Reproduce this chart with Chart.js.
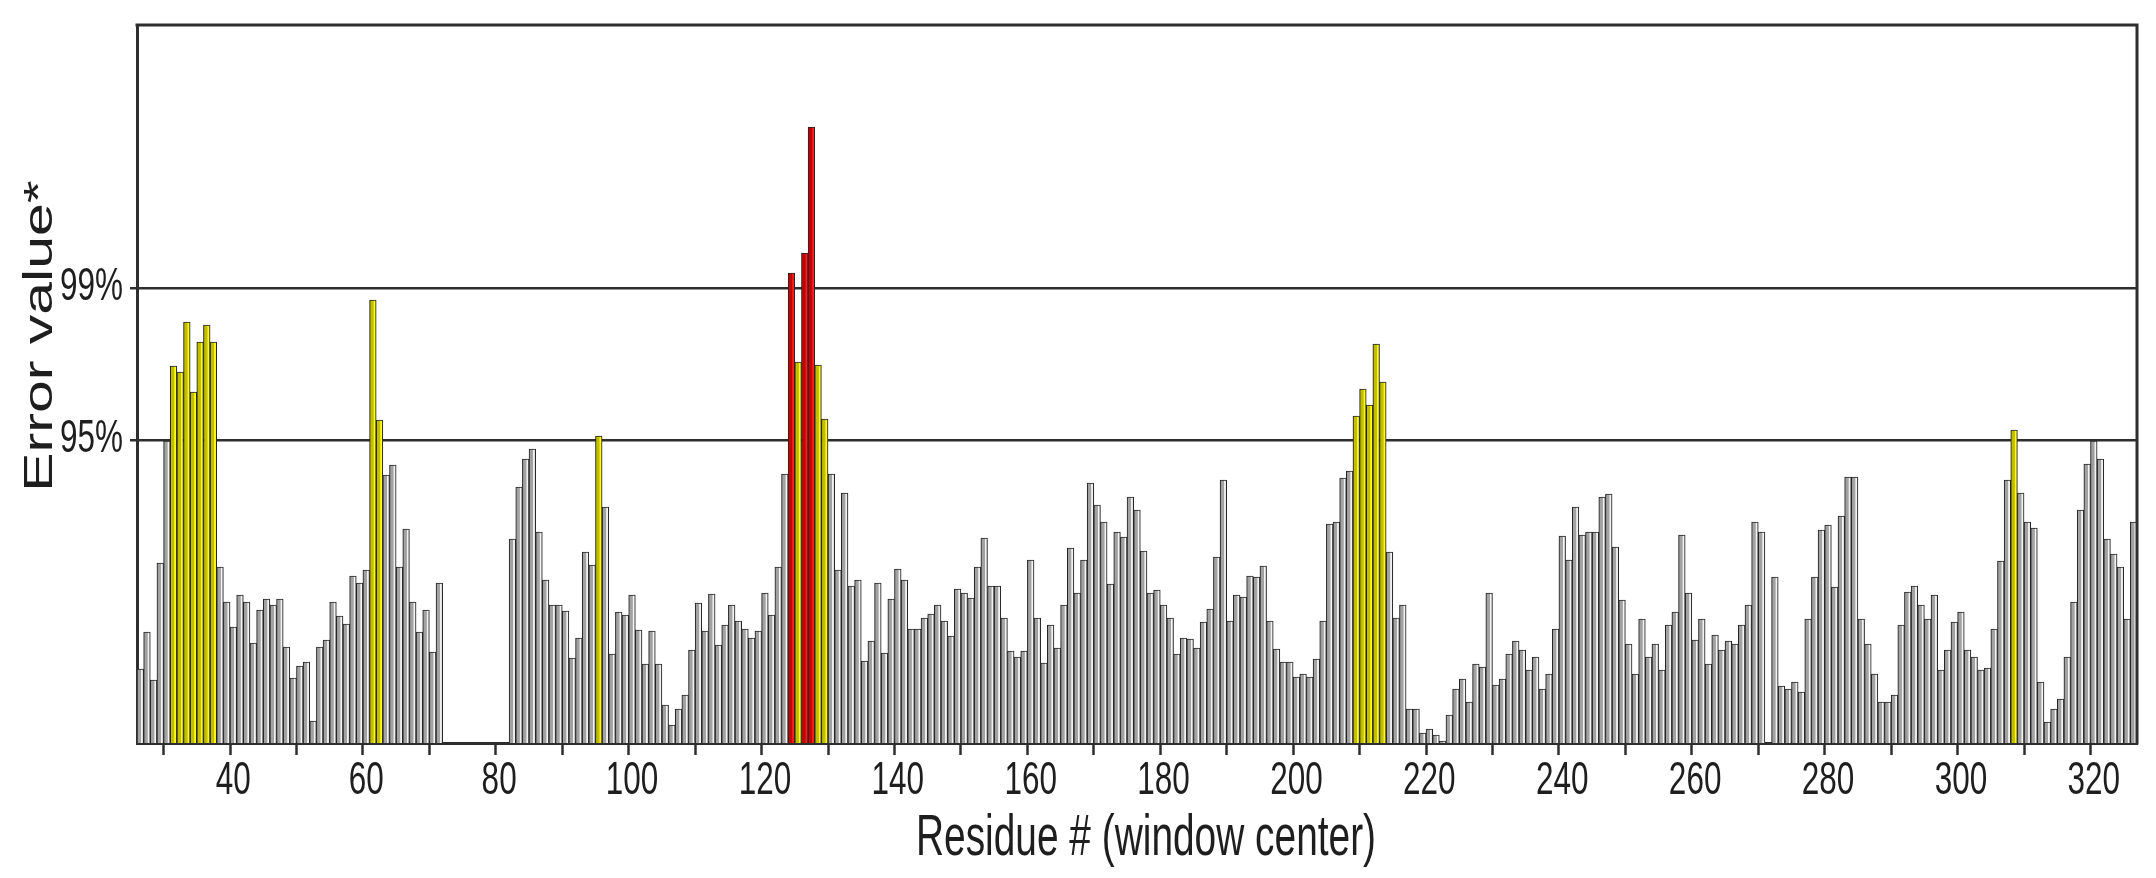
<!DOCTYPE html>
<html>
<head>
<meta charset="utf-8">
<title>Error value by residue</title>
<script src="https://cdn.jsdelivr.net/npm/chart.js@4.4.1/dist/chart.umd.min.js"></script>
<style>
  html, body { margin: 0; padding: 0; background: #fff; }
  #wrap { width: 2156px; height: 878px; }
</style>
</head>
<body>
<div id="wrap"><canvas id="errorChart"></canvas></div>
<script>
// residues 26..326, one bar per window center
const FIRST_RESIDUE = 26;
const LAST_RESIDUE = 326;

// error value per residue (null = no window)
const ERROR_VALUES = [
  0.74, 1.11, 0.63, 1.80, 3.02, 3.77, 3.71, 4.21, 3.51, 4.01,   // 26-35
  4.18, 4.01, 1.76, 1.41, 1.16, 1.48, 1.41, 1.00, 1.33, 1.44,   // 36-45
  1.38, 1.44, 0.96, 0.65, 0.77, 0.81, 0.22, 0.96, 1.03, 1.41,   // 46-55
  1.27, 1.19, 1.67, 1.60, 1.73, 4.43, 3.23, 2.68, 2.78, 1.76,   // 56-65
  2.14, 1.41, 1.11, 1.33, 0.91, 1.60, null, null, null, null,   // 66-75
  null, null, null, null, null, null, 2.04, 2.56, 2.84, 2.94,   // 76-85
  2.11, 1.63, 1.38, 1.38, 1.32, 0.85, 1.05, 1.91, 1.78, 3.07,   // 86-95
  2.36, 0.89, 1.31, 1.28, 1.48, 1.13, 0.79, 1.12, 0.79, 0.38,   // 96-105
  0.18, 0.34, 0.48, 0.93, 1.40, 1.12, 1.49, 0.98, 1.18, 1.38,   // 106-115
  1.22, 1.14, 1.05, 1.12, 1.50, 1.28, 1.76, 2.69, 4.70, 3.81,   // 116-125
  4.90, 6.16, 3.78, 3.24, 2.69, 1.73, 2.50, 1.57, 1.63, 0.82,   // 126-135
  1.02, 1.60, 0.90, 1.44, 1.74, 1.63, 1.14, 1.14, 1.25, 1.29,   // 136-145
  1.38, 1.22, 1.07, 1.54, 1.50, 1.45, 1.76, 2.05, 1.57, 1.57,   // 146-155
  1.25, 0.92, 0.86, 0.92, 1.83, 1.25, 0.80, 1.18, 0.95, 1.38,   // 156-165
  1.95, 1.50, 1.83, 2.60, 2.38, 2.21, 1.59, 2.11, 2.06, 2.46,   // 166-175
  2.33, 1.92, 1.50, 1.53, 1.38, 1.25, 0.89, 1.05, 1.04, 0.95,   // 176-185
  1.21, 1.34, 1.86, 2.63, 1.22, 1.48, 1.46, 1.67, 1.66, 1.77,   // 186-195
  1.22, 0.94, 0.81, 0.81, 0.66, 0.69, 0.66, 0.84, 1.22, 2.19,   // 196-205
  2.21, 2.65, 2.72, 3.27, 3.54, 3.38, 3.99, 3.61, 1.91, 1.25,   // 206-215
  1.38, 0.34, 0.34, 0.10, 0.14, 0.08, 0.02, 0.28, 0.54, 0.64,   // 216-225
  0.41, 0.79, 0.76, 1.50, 0.58, 0.64, 0.89, 1.02, 0.93, 0.73,   // 226-235
  0.86, 0.54, 0.69, 1.14, 2.07, 1.83, 2.36, 2.08, 2.11, 2.11,   // 236-245
  2.46, 2.49, 1.96, 1.43, 0.99, 0.69, 1.24, 0.86, 0.99, 0.73,   // 246-255
  1.18, 1.31, 2.08, 1.50, 1.03, 1.24, 0.79, 1.08, 0.93, 1.02,   // 256-265
  0.99, 1.18, 1.38, 2.21, 2.11, null, 1.66, 0.57, 0.54, 0.61,   // 266-275
  0.51, 1.24, 1.66, 2.13, 2.18, 1.56, 2.27, 2.66, 2.66, 1.24,   // 276-285
  0.99, 0.69, 0.41, 0.41, 0.48, 1.18, 1.51, 1.57, 1.38, 1.24,   // 286-295
  1.48, 0.73, 0.93, 1.21, 1.31, 0.93, 0.86, 0.73, 0.75, 1.14,   // 296-305
  1.82, 2.63, 3.13, 2.50, 2.21, 2.15, 0.61, 0.21, 0.34, 0.44,   // 306-315
  0.86, 1.41, 2.33, 2.79, 3.02, 2.84, 2.04, 1.89, 1.76, 1.24,   // 316-325
  2.21                                                          // 326
];

// significance levels drawn as horizontal lines
const THRESHOLD_VALUES = [3.03, 4.55];
const THRESHOLD_LABELS = ['95%', '99%'];
const Y_MAX = 7.18;

// labelled residues on the x axis (tick marks every 10)
const X_LABELED = [40, 60, 80, 100, 120, 140, 160, 180, 200, 220, 240, 260, 280, 300, 320];

const RESIDUES = [];
for (let r = FIRST_RESIDUE; r <= LAST_RESIDUE; r++) RESIDUES.push(String(r));

// colours: [shadow side, light side]
const GRAY = ['#a2a2a2', '#f3f3f3'];
const YELLOW = ['#c2bd00', '#ffff10'];
const RED = ['#c40000', '#ff1c1c'];
const LINE = '#2e2e2e';
const TEXT = '#1e1e1e';
const FONT = '"Liberation Sans", Arial, sans-serif';
const SQUEEZE = 0.67; // the text in the figure is horizontally compressed

// == fill of one bar: 3D look, darker left half, lighter right strip ==
function barFill(context) {
  const v = context.raw;
  let pair = GRAY;
  if (v > THRESHOLD_VALUES[1]) pair = RED;
  else if (v > THRESHOLD_VALUES[0]) pair = YELLOW;
  const x = context.chart.scales.x;
  if (!x || !x.width) return pair[0];
  const cx = x.getPixelForValue(context.dataIndex);
  const half = (x.getPixelForValue(1) - x.getPixelForValue(0)) / 2;
  const g = context.chart.ctx.createLinearGradient(cx - half, 0, cx + half, 0);
  g.addColorStop(0, pair[0]);
  g.addColorStop(0.55, pair[0]);
  g.addColorStop(0.68, pair[1]);
  g.addColorStop(1, pair[1]);
  return g;
}

function drawSqueezed(ctx, text, x, y, sx, sy) {
  ctx.save();
  ctx.translate(x, y);
  ctx.scale(sx, sy);
  ctx.fillText(text, 0, 0);
  ctx.restore();
}

// == frame round the plot + condensed labels ==
const framePlugin = {
  id: 'frame',
  afterDatasetsDraw(chart) {
    const { ctx, chartArea: a } = chart;
    ctx.save();
    ctx.strokeStyle = LINE;
    ctx.lineWidth = 3;
    ctx.beginPath();
    ctx.moveTo(a.left - 1.5, a.top);
    ctx.lineTo(a.right, a.top);
    ctx.lineTo(a.right, a.bottom + 1.5);
    ctx.stroke();
    ctx.restore();
  },
  afterDraw(chart) {
    const { ctx, chartArea: a, scales } = chart;
    const x = scales.x, y = scales.y;
    ctx.save();
    ctx.fillStyle = TEXT;
    ctx.textBaseline = 'alphabetic';

    ctx.font = '47px ' + FONT;
    ctx.textAlign = 'center';
    x.ticks.forEach((t, i) => {
      if (t.label) drawSqueezed(ctx, t.label, x.getPixelForTick(i), a.bottom + 51, SQUEEZE, 1);
    });
    ctx.textAlign = 'right';
    y.ticks.forEach((t, i) => {
      drawSqueezed(ctx, t.label, a.left - 14, y.getPixelForTick(i) + 12, SQUEEZE, 1);
    });

    ctx.font = '58px ' + FONT;
    ctx.textAlign = 'center';
    drawSqueezed(ctx, 'Residue # (window center)', (a.left + a.right) / 2 + 9, 855, SQUEEZE, 1);

    ctx.save();
    ctx.font = '59px ' + FONT;
    ctx.translate(52, 336);
    ctx.rotate(-Math.PI / 2);
    ctx.scale(1, 0.7);
    ctx.fillText('Error value*', 0, 0);
    ctx.restore();

    ctx.restore();
  }
};

const chart = new Chart(document.getElementById('errorChart'), {
  type: 'bar',
  data: {
    labels: RESIDUES,
    datasets: [{
      label: 'Error value',
      data: ERROR_VALUES,
      backgroundColor: barFill,
      borderColor: '#262626',
      borderWidth: 1.1,
      barPercentage: 1,
      categoryPercentage: 1
    }]
  },
  options: {
    responsive: true,
    maintainAspectRatio: false,
    animation: false,
    events: [],
    layout: { padding: { top: 25, right: 19, left: 0, bottom: 0 } },
    plugins: { legend: { display: false }, tooltip: { enabled: false } },
    scales: {
      x: {
        offset: true,
        afterFit: (s) => { s.height = 135; },
        border: { display: true, color: LINE, width: 3 },
        grid: {
          drawOnChartArea: false,
          drawTicks: true,
          tickLength: 12,
          tickWidth: 2.5,
          tickColor: (c) => (Number(RESIDUES[c.index]) % 10 === 0 ? LINE : 'rgba(0,0,0,0)')
        },
        ticks: {
          autoSkip: false,
          maxRotation: 0,
          minRotation: 0,
          color: 'rgba(0,0,0,0)',
          font: { size: 10 },
          callback: (value, index) => (X_LABELED.includes(Number(RESIDUES[index])) ? RESIDUES[index] : '')
        }
      },
      y: {
        min: 0,
        max: Y_MAX,
        afterFit: (s) => { s.width = 137; },
        afterBuildTicks: (s) => { s.ticks = THRESHOLD_VALUES.map(v => ({ value: v })); },
        border: { display: true, color: LINE, width: 3 },
        grid: { color: LINE, lineWidth: 2.5, tickLength: 7 },
        ticks: {
          color: 'rgba(0,0,0,0)',
          callback: (value) => THRESHOLD_LABELS[THRESHOLD_VALUES.indexOf(value)] || ''
        }
      }
    }
  },
  plugins: [framePlugin]
});
</script>
</body>
</html>
